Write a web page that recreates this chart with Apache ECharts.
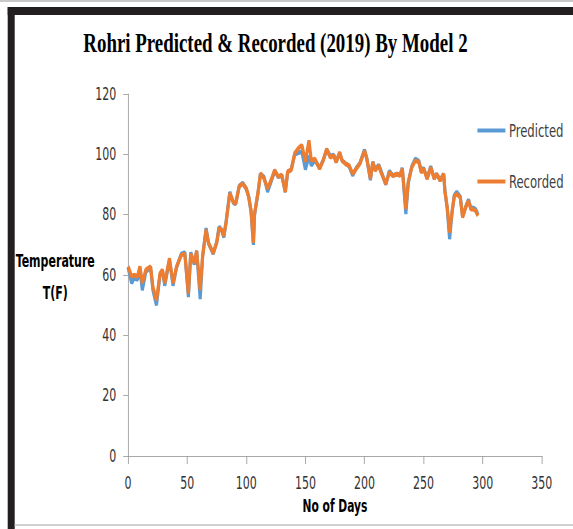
<!DOCTYPE html>
<html>
<head>
<meta charset="utf-8">
<script src="https://cdn.jsdelivr.net/npm/echarts@6/dist/echarts.min.js"></script>
<style>
  html, body { margin: 0; padding: 0; background: #fff; overflow: hidden; }
  /* the original picture is squeezed sideways, so the chart is drawn wider and scaled back */
  #main { width: 819px; height: 529px; transform: scaleX(0.7); transform-origin: 0 0; }
</style>
</head>
<body>
<div id="main"></div>
<script>
// day number of each reading
const days = [0, 3, 5, 8, 10, 12, 15, 19, 21, 24, 27, 29, 31, 35, 38, 41, 45, 48, 51, 53,
  56, 58, 61, 63, 66, 68, 72, 75, 77, 79, 81, 83, 86, 89, 91, 94, 97, 100, 102, 104,
  106, 107, 110, 112, 115, 118, 121, 124, 127, 130, 133, 135, 138, 141, 144, 147, 150, 153, 155, 158,
  162, 165, 168, 171, 174, 176, 179, 181, 184, 187, 190, 193, 196, 200, 202, 205, 207, 209, 212, 214,
  218, 221, 224, 228, 230, 232, 235, 237, 240, 243, 246, 248, 250, 253, 256, 259, 261, 264, 267, 268,
  270, 272, 274, 276, 278, 281, 283, 286, 288, 290, 292, 294, 296]

const predicted = [62.5, 57.3, 59, 58.5, 62.3, 55, 61, 62.5, 55, 50, 60, 61.5, 56.5, 65, 56.5, 62.5, 67, 67.5, 52.7, 67.5,
  63.5, 68, 52, 66, 75.5, 70.5, 67, 71, 76, 75, 72.5, 78, 87.5, 84, 83.5, 89.5, 90.5, 88.5, 86, 81,
  70, 80, 87.5, 93.5, 92.5, 87.6, 91, 94.5, 92.5, 93, 87.5, 94, 95, 100, 100.5, 100.9, 95, 99.5, 96.3, 98,
  95.5, 98, 101.5, 99.5, 99.8, 97.5, 100.5, 98, 97, 96, 93, 95.5, 97, 101.5, 98.5, 91.5, 97.5, 95, 96.5, 94.5,
  90, 94.5, 93, 93.5, 93, 95.5, 80.2, 90.5, 96, 98.5, 97.8, 94.5, 95.5, 92, 96, 92, 93.5, 91.5, 93.5, 88,
  82, 71.9, 80.5, 86.5, 87.5, 86, 79.5, 83, 85, 82, 82.3, 81.8, 80]

const recorded = [62.8, 59.5, 60, 59.5, 62.8, 57.3, 61.7, 62.8, 56, 51.6, 60.5, 61.7, 57.3, 65.5, 57.3, 62.8, 66.6, 67, 53.8, 67,
  64, 68, 55, 66, 75, 70.7, 67.3, 70.7, 75.6, 75, 73, 77.6, 87, 84.3, 83.7, 89.3, 90.3, 88.7, 85.9, 81.5,
  70.7, 80.4, 87.6, 93.7, 92, 88.7, 91.5, 94.8, 92.6, 93.2, 87.6, 94.3, 94.8, 100.4, 102, 103, 97.6, 104.6, 97.9, 98.5,
  95.2, 97.9, 101.8, 99, 99.6, 97.4, 100.7, 97.9, 96.8, 96.3, 93.5, 95.2, 96.8, 101.2, 98.5, 91.9, 97.4, 94.6, 96.3, 94,
  90.2, 94, 92.9, 93.5, 92.9, 95.2, 81.9, 90.7, 95.7, 97.9, 97.4, 94, 95.2, 91.9, 95.7, 91.9, 93.5, 91.3, 93.5, 87.9,
  82.4, 74.1, 80.7, 86.2, 86.8, 85.7, 79.1, 82.9, 84.6, 81.8, 81.8, 81.3, 79.6]

const seriesNames = ['Predicted', 'Recorded']
const seriesColors = ['#5b9bd5', '#ed7d31']

const narrow = "'Liberation Sans Narrow', 'DejaVu Sans Condensed', sans-serif"
const axisGray = '#9a9a9a'

const chart = echarts.init(document.getElementById('main'), null, { renderer: 'svg' })

const option = {
  animation: false,
  title: {
    text: 'Rohri Predicted & Recorded (2019) By Model 2',
    left: 114,
    top: 24,
    textStyle: {
      fontFamily: "'Liberation Serif', 'Times New Roman', serif",
      fontWeight: 'bold',
      fontSize: 27,
      color: '#000'
    }
  },
  legend: {
    orient: 'vertical',
    left: 677,
    top: 116,
    itemGap: 32,
    itemWidth: 40,
    itemHeight: 4,
    icon: 'rect',
    data: seriesNames,
    textStyle: { fontFamily: narrow, fontSize: 18.5, color: '#404040' }
  },
  grid: { left: 183, right: 45, top: 94, bottom: 73 },
  xAxis: {
    type: 'value',
    min: 0,
    max: 350,
    interval: 50,
    name: 'No of Days',
    nameLocation: 'middle',
    nameGap: 40,
    nameTextStyle: { fontFamily: narrow, fontWeight: 'bold', fontSize: 17, color: '#000' },
    splitLine: { show: false },
    axisLine: { lineStyle: { color: axisGray, width: 1 } },
    axisTick: { length: 8, lineStyle: { color: axisGray } },
    axisLabel: { margin: 18, fontFamily: narrow, fontSize: 17.5, color: '#333' }
  },
  yAxis: {
    type: 'value',
    min: 0,
    max: 120,
    interval: 20,
    splitLine: { show: false },
    axisLine: { show: true, lineStyle: { color: axisGray, width: 1 } },
    axisTick: { show: true, length: 7, lineStyle: { color: axisGray } },
    axisLabel: { margin: 17, fontFamily: narrow, fontSize: 17.5, color: '#333' }
  },
  graphic: [
    // frame of the original picture
    { type: 'rect', shape: { x: 0, y: 0, width: 819, height: 2 }, style: { fill: '#c8c8c8' } },
    { type: 'rect', shape: { x: 11, y: 7, width: 808, height: 8 }, style: { fill: '#231f20' } },
    { type: 'rect', shape: { x: 11, y: 7, width: 10, height: 522 }, style: { fill: '#231f20' } },
    { type: 'rect', shape: { x: 21, y: 524, width: 798, height: 2 }, style: { fill: '#d0d0d0' } },
    {
      type: 'text',
      x: 79,
      y: 277,
      style: {
        text: 'Temperature\nT(F)',
        fontFamily: narrow,
        fontWeight: 'bold',
        fontSize: 17.5,
        lineHeight: 32,
        align: 'center',
        verticalAlign: 'middle',
        fill: '#000'
      }
    }
  ],
  series: [
    {
      name: seriesNames[0],
      type: 'line',
      showSymbol: false,
      data: days.map((d, i) => [d, predicted[i]]),
      lineStyle: { color: seriesColors[0], width: 4.5 },
      itemStyle: { color: seriesColors[0] }
    },
    {
      name: seriesNames[1],
      type: 'line',
      showSymbol: false,
      data: days.map((d, i) => [d, recorded[i]]),
      lineStyle: { color: seriesColors[1], width: 4.5 },
      itemStyle: { color: seriesColors[1] }
    }
  ]
}

chart.setOption(option)
</script>
</body>
</html>
